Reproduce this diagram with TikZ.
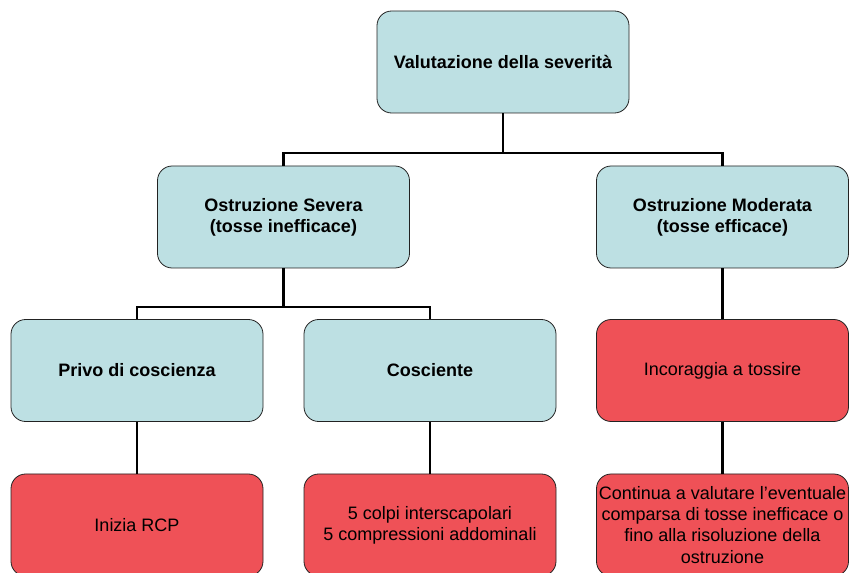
\documentclass[tikz,border=0pt]{standalone}
\usepackage{fontspec}
\setmainfont{Liberation Sans}
\usetikzlibrary{positioning}

\definecolor{boxblue}{HTML}{BDE0E3}
\definecolor{boxred}{HTML}{EF5157}
\definecolor{boxline}{HTML}{222222}

\tikzset{
  stepbox/.style={draw=boxline, line width=0.6pt, rounded corners=11pt,
    minimum width=189pt, minimum height=76.5pt, align=center,
    inner sep=0.5pt, font=\fontsize{13.5}{15.8}\selectfont},
  askbox/.style={stepbox, fill=boxblue, font=\fontsize{13.5}{15.8}\selectfont\bfseries},
  actbox/.style={stepbox, fill=boxred},
  link/.style={line width=1.6pt, black}
}

\begin{document}
\begin{tikzpicture}[x=0.75pt,y=0.75pt]
\useasboundingbox (0,0) rectangle (850,-573);

\def\xa{137}
\def\xb{283.5}
\def\xc{430}
\def\xd{503}
\def\xe{722.5}

\def\ya{-62}
\def\yb{-217}
\def\yc{-370.5}
\def\yd{-525}

\node[askbox] (sev) at (\xd, \ya) {Valutazione della severità};
\node[askbox] (sevr) at (\xb, \yb) {Ostruzione Severa\\(tosse inefficace)};
\node[askbox] (mod) at (\xe, \yb) {Ostruzione Moderata\\(tosse efficace)};
\node[askbox] (priv) at (\xa, \yc) {Privo di coscienza};
\node[askbox] (cosc) at (\xc, \yc) {Cosciente};
\node[actbox] (toss) at (\xe, \yc) {Incoraggia a tossire};
\node[actbox] (rcp) at (\xa, \yd) {Inizia RCP};
\node[actbox] (colpi) at (\xc, \yd) {5 colpi interscapolari\\5 compressioni addominali};
\node[actbox] (cont) at (\xe, \yd) {Continua a valutare l’eventuale\\comparsa di tosse inefficace o\\fino alla risoluzione della\\ostruzione};

\coordinate (ja) at (\xd, -153);
\coordinate (jb) at (\xb, -307);

\draw[link] (sev.south) -- (ja);
\draw[link] (sevr.north) |- (ja) -| (mod.north);
\draw[link] (sevr.south) -- (jb);
\draw[link] (priv.north) |- (jb) -| (cosc.north);
\draw[link] (mod.south) -- (toss.north);
\draw[link] (priv.south) -- (rcp.north);
\draw[link] (cosc.south) -- (colpi.north);
\draw[link] (toss.south) -- (cont.north);
\end{tikzpicture}
\end{document}
